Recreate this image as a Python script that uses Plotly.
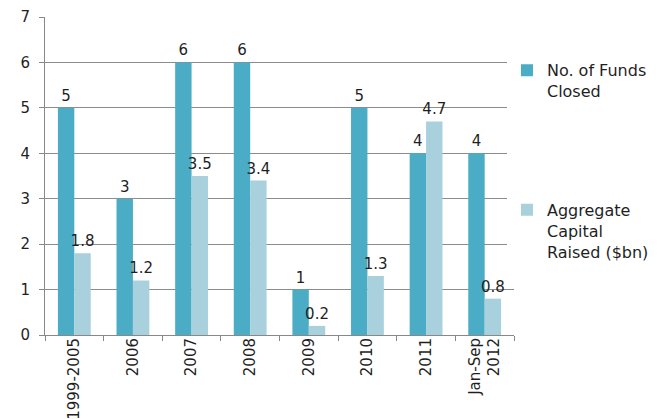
import plotly.graph_objects as go

categories = ["1999-2005", "2006", "2007", "2008", "2009", "2010", "2011", "Jan-Sep<br>2012"]
funds_closed = [5, 3, 6, 6, 1, 5, 4, 4]
capital_raised = [1.8, 1.2, 3.5, 3.4, 0.2, 1.3, 4.7, 0.8]
y_ticks = [0, 1, 2, 3, 4, 5, 6, 7]

FONT = "DejaVu Sans, sans-serif"
TXT = "#1f1f1f"

fig = go.Figure()
fig.add_trace(go.Bar(
    x=categories, y=funds_closed, name="No. of Funds<br>Closed",
    marker=dict(color="#4BACC6", line=dict(width=0)),
    text=[str(v) for v in funds_closed], textposition="outside",
    textfont=dict(size=15, color=TXT, family=FONT),
    constraintext="none", cliponaxis=False, legendgroup="a",
))
fig.add_trace(go.Bar(
    x=categories, y=capital_raised, name="Aggregate<br>Capital<br>Raised ($bn)",
    marker=dict(color="#A9D0DD", line=dict(width=0)),
    text=[str(v) for v in capital_raised], textposition="outside",
    textfont=dict(size=15, color=TXT, family=FONT),
    constraintext="none", cliponaxis=False, legendgroup="b",
))

fig.update_layout(
    width=653, height=411,
    margin=dict(l=37, r=147, t=9, b=84, autoexpand=False),
    paper_bgcolor="white", plot_bgcolor="white",
    barmode="group", bargap=0.44, bargroupgap=0,
    font=dict(family=FONT, size=14, color=TXT),
    legend=dict(
        x=0.985, y=0.886, xanchor="left", yanchor="top",
        font=dict(size=16, family=FONT, color=TXT),
        tracegroupgap=95, traceorder="grouped", valign="top",
        itemwidth=30,
    ),
    xaxis=dict(
        type="category", tickangle=-90, tickson="boundaries",
        ticks="outside", ticklen=5, tickcolor="#888888",
        showline=True, linecolor="#888888", linewidth=1,
        tickfont=dict(size=15, family=FONT, color=TXT),
        ticklabelstandoff=-4,
        showgrid=False, automargin=False,
    ),
    yaxis=dict(
        range=[0, 7], tickvals=y_ticks,
        ticks="outside", ticklen=5, tickcolor="#888888",
        showline=True, linecolor="#888888", linewidth=1,
        showgrid=True, gridcolor="#8c8c8c", gridwidth=1,
        tickfont=dict(size=15, family=FONT, color=TXT),
        ticklabelstandoff=6,
        zeroline=False, automargin=False,
    ),
)

fig.write_html("out.html")
